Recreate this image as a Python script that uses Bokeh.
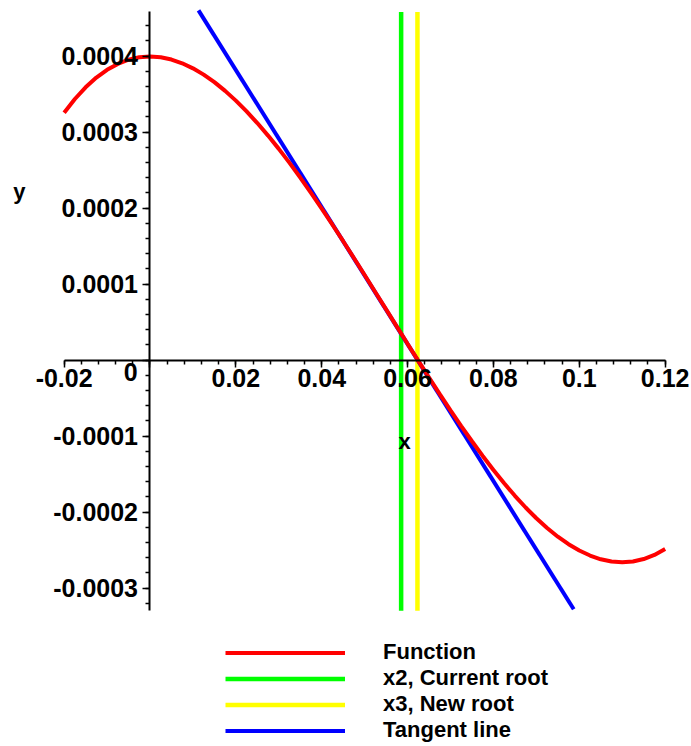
from bokeh.plotting import figure
from bokeh.models import Range1d, FixedTicker, Label, Legend, LegendItem
from bokeh.embed import file_html
from bokeh.resources import INLINE

# ---- data ----
func_x = [-0.02, -0.0175, -0.015, -0.0125, -0.01, -0.0075, -0.005, -0.0025,
          0.0, 0.0025, 0.005, 0.0075, 0.01, 0.0125, 0.015, 0.0175, 0.02, 0.0225,
          0.025, 0.0275, 0.03, 0.0325, 0.035, 0.0375, 0.04, 0.0425, 0.045, 0.0475,
          0.05, 0.0525, 0.055, 0.0575, 0.06, 0.0625, 0.065, 0.0675, 0.07, 0.0725,
          0.075, 0.0775, 0.08, 0.0825, 0.085, 0.0875, 0.09, 0.0925, 0.095, 0.0975,
          0.1, 0.1025, 0.105, 0.1075, 0.11, 0.1125, 0.115, 0.1175, 0.12]
func_y = [0.0003253, 0.0003434, 0.0003588, 0.0003716, 0.0003818, 0.0003896,
          0.0003951, 0.0003983, 0.0003993, 0.0003983, 0.0003953, 0.0003904,
          0.0003838, 0.0003755, 0.0003656, 0.0003541, 0.0003413, 0.0003272,
          0.0003118, 0.0002953, 0.0002778, 0.0002594, 0.0002401, 0.0002200,
          0.0001993, 0.0001780, 0.0001563, 0.0001342, 0.0001118, 0.0000892,
          0.0000666, 0.0000439, 0.0000213, -0.0000011, -0.0000232, -0.0000449,
          -0.0000662, -0.0000869, -0.0001069, -0.0001262, -0.0001447, -0.0001622,
          -0.0001787, -0.0001941, -0.0002082, -0.0002210, -0.0002325, -0.0002424,
          -0.0002507, -0.0002573, -0.0002622, -0.0002652, -0.0002662, -0.0002651,
          -0.0002619, -0.0002565, -0.0002487]
x2_root = 0.0585
x3_root = 0.0623
tangent_x = [0.0113, 0.0987]
tangent_y = [0.000460, -0.000328]
view_x = [-0.02, 0.12]
view_y = [-0.00033, 0.000458]

x_ticks = [-0.02, 0.0, 0.02, 0.04, 0.06, 0.08, 0.1, 0.12]
x_tick_labels = ["-0.02", "", "0.02", "0.04", "0.06", "0.08", "0.1", "0.12"]
y_ticks = [-0.0003, -0.0002, -0.0001, 0.0, 0.0001, 0.0002, 0.0003, 0.0004]
y_tick_labels = ["-0.0003", "-0.0002", "-0.0001", "", "0.0001", "0.0002", "0.0003", "0.0004"]
x_minor = [round(-0.02 + 0.004 * i, 4) for i in range(36)]
y_minor = [round(-0.00032 + 0.00002 * i, 6) for i in range(39)]
legend_labels = ["Function", "x2, Current root", "x3, New root", "Tangent line"]

FONT = "Liberation Sans"

p = figure(width=691, height=746, output_backend="svg", toolbar_location=None,
           x_range=Range1d(-0.034824, 0.126136),
           y_range=Range1d(-0.00050855, 0.00047303),
           min_border=0)
p.outline_line_color = None
p.xgrid.visible = False
p.ygrid.visible = False
p.background_fill_color = "white"
p.border_fill_color = "white"

# axes crossing at origin
xa = p.xaxis[0]
ya = p.yaxis[0]
xa.fixed_location = 0
ya.fixed_location = 0
xa.bounds = (view_x[0], view_x[1])
ya.bounds = (view_y[0], view_y[1])
xa.ticker = FixedTicker(ticks=x_ticks, minor_ticks=x_minor)
ya.ticker = FixedTicker(ticks=y_ticks, minor_ticks=y_minor)
xa.major_label_overrides = {t: s for t, s in zip(x_ticks, x_tick_labels)}
ya.major_label_overrides = {t: s for t, s in zip(y_ticks, y_tick_labels)}
for ax in (xa, ya):
    ax.axis_line_color = "black"
    ax.axis_line_width = 2
    ax.major_tick_line_color = "black"
    ax.minor_tick_line_color = "black"
    ax.major_tick_line_width = 1.5
    ax.minor_tick_line_width = 1.5
    ax.major_tick_in = 0
    ax.major_tick_out = 7
    ax.minor_tick_in = 0
    ax.minor_tick_out = 4
    ax.major_label_text_font = FONT
    ax.major_label_text_font_style = "bold"
    ax.major_label_text_font_size = "25px"
    ax.major_label_text_color = "black"
xa.major_label_standoff = 2
ya.major_label_standoff = 5

# curves
r_green = p.line([x2_root, x2_root], view_y, line_color="#00FF00", line_width=4.5)
r_yellow = p.line([x3_root, x3_root], view_y, line_color="#FFFF00", line_width=4.5)
r_blue = p.line(tangent_x, tangent_y, line_color="#0000FF", line_width=4)
r_red = p.line(func_x, func_y, line_color="#FF0000", line_width=4)

# origin label and axis labels
p.add_layout(Label(x=-0.0029, y=-0.0000164, text="0", text_align="right",
                   text_baseline="middle", text_font=FONT, text_font_style="bold",
                   text_font_size="25px", text_color="black"))
p.add_layout(Label(x=0.0593, y=-0.000107, text="x", text_align="center",
                   text_baseline="middle", text_font=FONT, text_font_style="bold",
                   text_font_size="22px", text_color="black"))
p.add_layout(Label(x=-0.0304, y=0.000222, text="y", text_align="center",
                   text_baseline="middle", text_font=FONT, text_font_style="bold",
                   text_font_size="22px", text_color="black"))

legend = Legend(items=[LegendItem(label=legend_labels[0], renderers=[r_red]),
                       LegendItem(label=legend_labels[1], renderers=[r_green]),
                       LegendItem(label=legend_labels[2], renderers=[r_yellow]),
                       LegendItem(label=legend_labels[3], renderers=[r_blue])],
                location=(225, 3), glyph_width=120, glyph_height=25,
                label_height=25, label_standoff=38, spacing=0, padding=0,
                margin=0, border_line_color=None, background_fill_alpha=0,
                label_text_font=FONT, label_text_font_style="bold",
                label_text_font_size="22px", label_text_color="black")
p.add_layout(legend)

open("out.html", "w").write(file_html(p, INLINE))
